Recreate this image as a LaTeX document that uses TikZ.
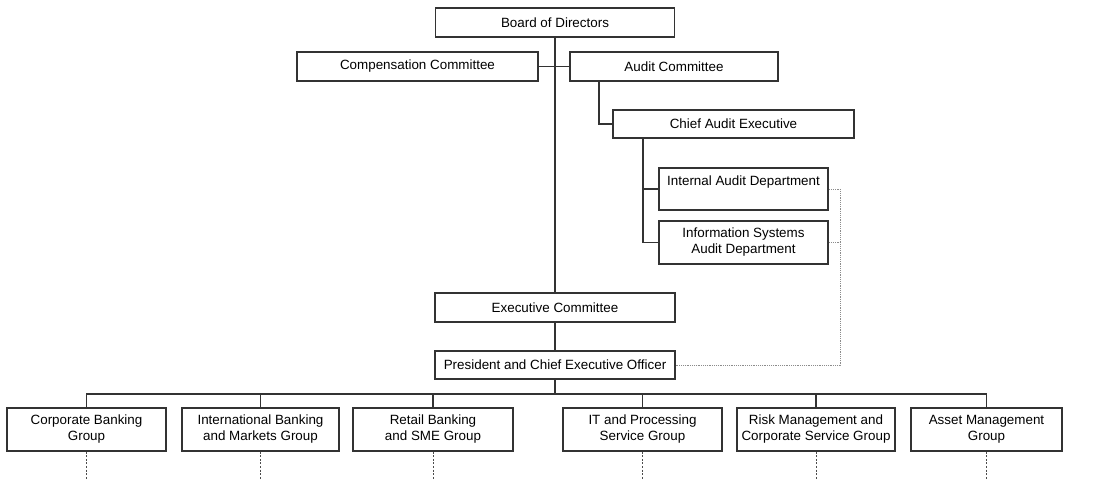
\documentclass[tikz,border=0pt]{standalone}
\usepackage{fontspec}
\setmainfont{Liberation Sans}
\begin{document}
\begin{tikzpicture}[x=1pt,y=-1pt,
  box/.style={draw=black!80,line width=1.1pt,rectangle,inner sep=0pt,align=center,
    font=\fontsize{13.4}{16}\selectfont,text=black},
  conn/.style={draw=black!80,line width=1.1pt},
  dot/.style={draw=black!70,line width=0.9pt,dash pattern=on 2pt off 1.6pt},
  lightdot/.style={draw=black!45,line width=0.7pt,dash pattern=on 1.2pt off 1pt}]
\useasboundingbox (0,0) rectangle (1096,479);
\node[box,minimum width=239pt,minimum height=29pt] (board) at (555,22.5) {Board of Directors};
\node[box,minimum width=241pt,minimum height=29pt] (comp) at (417.5,66.5) {Compensation Committee};
\node[box,minimum width=208pt,minimum height=29pt] (audit) at (674,66.5) {Audit Committee};
\node[box,minimum width=241pt,minimum height=28pt] (cae) at (733.5,124) {Chief Audit Executive};
\node[box,minimum width=169pt,minimum height=42pt] (iad) at (743.5,189) {Internal Audit Department\\\mbox{}};
\node[box,minimum width=169pt,minimum height=43pt] (isad) at (743.5,242.5) {Information Systems\\Audit Department};
\node[box,minimum width=240pt,minimum height=29pt] (exec) at (555,307.5) {Executive Committee};
\node[box,minimum width=240pt,minimum height=28pt] (pres) at (555,365) {President and Chief Executive Officer};
\node[box,minimum width=159pt,minimum height=43pt] (g1) at (86.5,429.5) {Corporate Banking\\Group};
\node[box,minimum width=157pt,minimum height=43pt] (g2) at (260.5,429.5) {International Banking\\and Markets Group};
\node[box,minimum width=160pt,minimum height=43pt] (g3) at (433,429.5) {Retail Banking\\and SME Group};
\node[box,minimum width=159pt,minimum height=43pt] (g4) at (642.5,429.5) {IT and Processing\\Service Group};
\node[box,minimum width=158pt,minimum height=43pt] (g5) at (816,429.5) {Risk Management and\\Corporate Service Group};
\node[box,minimum width=151pt,minimum height=43pt] (g6) at (986.5,429.5) {Asset Management\\Group};
% main spine
\draw[conn] (board.south) -- (exec.north);
\draw[conn] (comp.east) -- (audit.west);
\draw[conn] (exec.south) -- (pres.north);
\coordinate (bus) at (555,394);
\draw[conn] (pres.south) -- (bus);
\draw[conn] (g1.north) |- (bus) -| (g6.north);
\foreach \g in {g2,g3,g4,g5} \draw[conn] (\g.north) -- (\g.north |- bus);
% audit branch
\coordinate (auditb) at (599,81);
\draw[conn] (auditb) |- (cae.west);
\coordinate (caeb) at (643,138);
\draw[conn] (caeb) |- (isad.west);
\draw[conn] (iad.west) -- (iad.west -| caeb);
% dotted reporting lines
\coordinate (dr) at (840,365);
\draw[lightdot] (iad.east) -- (iad.east -| dr) -- (dr) -- (pres.east);
\draw[lightdot] (isad.east) -- (isad.east -| dr);
\coordinate (bot) at (0,479);
\foreach \g in {g1,g2,g3,g4,g5,g6} {
  \draw[dot] (\g.south) -- (\g.south |- bot);
}
\end{tikzpicture}
\end{document}
